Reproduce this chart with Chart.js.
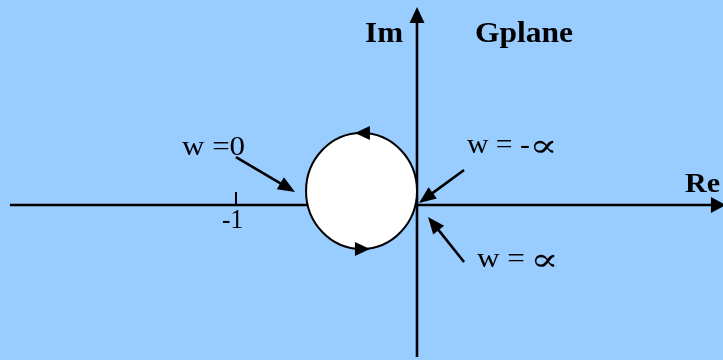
<!DOCTYPE html>
<html>
<head>
<meta charset="utf-8">
<script src="https://cdn.jsdelivr.net/npm/chart.js@4/dist/chart.umd.min.js"></script>
<style>
html, body { margin: 0; padding: 0; background: #99ccff; }
#wrap { width: 723px; height: 360px; }
</style>
</head>
<body>
<div id="wrap"><canvas id="gplane"></canvas></div>
<script>
// G plane - Nyquist contour of the open loop
var reTicks = [-1];
var tickLabels = ['-1'];
// extremes of the closed w contour: left, top, right, bottom
var contourRe = [-0.613, -0.306, 0.0, -0.306];
var contourIm = [0.077, 0.398, 0.077, -0.243];
var axisNames = ['Re', 'Im'];
var planeName = 'Gplane';
var freqLabels = ['w =0', 'w = -\u221D', 'w = \u221D'];

var SERIF = '"Liberation Serif", "DejaVu Serif", serif';

function arrow(ctx, x1, y1, x2, y2, len, wid) {
    var a = Math.atan2(y2 - y1, x2 - x1);
    var bx = x2 - Math.cos(a) * len, by = y2 - Math.sin(a) * len;
    ctx.beginPath();
    ctx.moveTo(x1, y1);
    ctx.lineTo(bx + Math.cos(a) * 2, by + Math.sin(a) * 2);
    ctx.stroke();
    head(ctx, x2, y2, a, len, wid);
}

function head(ctx, x, y, a, len, wid) {
    var bx = x - Math.cos(a) * len, by = y - Math.sin(a) * len;
    var nx = -Math.sin(a) * wid / 2, ny = Math.cos(a) * wid / 2;
    ctx.beginPath();
    ctx.moveTo(x, y);
    ctx.lineTo(bx + nx, by + ny);
    ctx.lineTo(bx - nx, by - ny);
    ctx.closePath();
    ctx.fill();
}

// draws text squeezed/stretched to the width it has in the picture
function fitText(ctx, txt, x, y, w) {
    var m = ctx.measureText(txt).width;
    ctx.save();
    ctx.translate(x, y);
    ctx.scale(w / m, 1);
    ctx.fillText(txt, 0, 0);
    ctx.restore();
}

// fits the ink of a glyph into a box whose bottom sits at y
function fitGlyph(ctx, ch, x, y, w, h) {
    var m = ctx.measureText(ch);
    var gw = m.actualBoundingBoxLeft + m.actualBoundingBoxRight;
    var gh = m.actualBoundingBoxAscent + m.actualBoundingBoxDescent;
    ctx.save();
    ctx.translate(x, y - h);
    ctx.scale(w / gw, h / gh);
    ctx.fillText(ch, m.actualBoundingBoxLeft, m.actualBoundingBoxAscent);
    ctx.restore();
}

// label whose last char is the infinity sign, drawn larger
function freqText(ctx, txt, x, y, w, sx, sw) {
    ctx.font = '28px ' + SERIF;
    fitText(ctx, txt.slice(0, -1).replace(/\s+$/, ''), x, y, w);
    ctx.font = '36px ' + SERIF;
    fitGlyph(ctx, txt.slice(-1), sx, y, sw, 13);
}

var gplanePlugin = {
    id: 'gplane',
    beforeDraw: function(chart) {
        var ctx = chart.ctx;
        ctx.save();
        ctx.fillStyle = '#99ccff';
        ctx.fillRect(0, 0, chart.width, chart.height);
        ctx.restore();
    },
    beforeDatasetsDraw: function(chart) {
        var ctx = chart.ctx, xs = chart.scales.x, ys = chart.scales.y;
        var x0 = xs.getPixelForValue(0), y0 = ys.getPixelForValue(0);
        ctx.save();
        ctx.strokeStyle = '#000';
        ctx.fillStyle = '#000';
        ctx.lineWidth = 2.6;
        // real axis
        arrow(ctx, xs.getPixelForValue(-2.249), y0, xs.getPixelForValue(1.707), y0, 15, 16);
        // imaginary axis
        arrow(ctx, x0, ys.getPixelForValue(-0.84), x0, ys.getPixelForValue(1.094), 16, 15);
        // ticks on the real axis
        ctx.lineWidth = 2;
        ctx.font = '27px ' + SERIF;
        ctx.textAlign = 'left';
        ctx.textBaseline = 'alphabetic';
        reTicks.forEach(function(v, i) {
            var px = xs.getPixelForValue(v);
            ctx.beginPath();
            ctx.moveTo(px, y0 - 13);
            ctx.lineTo(px, y0);
            ctx.stroke();
            fitText(ctx, tickLabels[i], px - 14, y0 + 23, 21);
        });
        ctx.restore();
    },
    afterDatasetsDraw: function(chart) {
        var ctx = chart.ctx, xs = chart.scales.x, ys = chart.scales.y;
        var pts = chart.getDatasetMeta(0).data;
        var left = pts[0].x, top = pts[1].y, right = pts[2].x, bottom = pts[3].y;
        var cx = (left + right) / 2, cy = (top + bottom) / 2;
        ctx.save();
        // contour
        ctx.beginPath();
        ctx.ellipse(cx, cy, (right - left) / 2, (bottom - top) / 2, 0, 0, Math.PI * 2);
        ctx.fillStyle = '#fff';
        ctx.fill();
        ctx.lineWidth = 2;
        ctx.strokeStyle = '#000';
        ctx.stroke();
        // direction arrows on the contour
        ctx.fillStyle = '#000';
        head(ctx, xs.getPixelForValue(-0.343), top, Math.PI, 15, 14);
        head(ctx, xs.getPixelForValue(-0.26), bottom, 0, 15, 14);

        // frequency markers
        ctx.lineWidth = 2.6;
        function P(x, y) { return [xs.getPixelForValue(x), ys.getPixelForValue(y)]; }
        var a;
        a = P(-1.0, 0.265).concat(P(-0.674, 0.072));
        arrow(ctx, a[0], a[1], a[2], a[3], 17, 14);
        a = P(0.26, 0.193).concat(P(0.011, 0.011));
        arrow(ctx, a[0], a[1], a[2], a[3], 17, 14);
        a = P(0.26, -0.315).concat(P(0.061, -0.066));
        arrow(ctx, a[0], a[1], a[2], a[3], 17, 14);

        ctx.textAlign = 'left';
        ctx.textBaseline = 'alphabetic';
        ctx.font = '28px ' + SERIF;
        var t;
        t = P(-1.298, 0.276); fitText(ctx, freqLabels[0], t[0], t[1], 63);
        t = P(0.276, 0.287);  freqText(ctx, freqLabels[1], t[0], t[1], 63, t[0] + 66, 21);
        t = P(0.331, -0.343); freqText(ctx, freqLabels[2], t[0], t[1], 48, t[0] + 57, 21);

        ctx.font = 'bold 30px ' + SERIF;
        t = P(-0.287, 0.901); fitText(ctx, axisNames[1], t[0], t[1], 38);
        t = P(0.32, 0.901);   fitText(ctx, planeName, t[0], t[1], 98);
        ctx.font = 'bold 28px ' + SERIF;
        t = P(1.481, 0.072);  fitText(ctx, axisNames[0], t[0], t[1], 35);
        ctx.restore();
    }
};

var ctx = document.getElementById('gplane').getContext('2d');
var chart = new Chart(ctx, {
    type: 'scatter',
    data: {
        datasets: [{
            label: 'w contour',
            data: contourRe.map(function(x, i) { return { x: x, y: contourIm[i] }; }),
            pointRadius: 0,
            showLine: false
        }]
    },
    options: {
        responsive: true,
        maintainAspectRatio: false,
        animation: false,
        layout: { padding: 0 },
        plugins: {
            legend: { display: false },
            tooltip: { enabled: false }
        },
        scales: {
            x: { type: 'linear', min: -2.3039, max: 1.6906, display: false },
            y: { type: 'linear', min: -0.8564, max: 1.1326, display: false }
        }
    },
    plugins: [gplanePlugin]
});
</script>
</body>
</html>
